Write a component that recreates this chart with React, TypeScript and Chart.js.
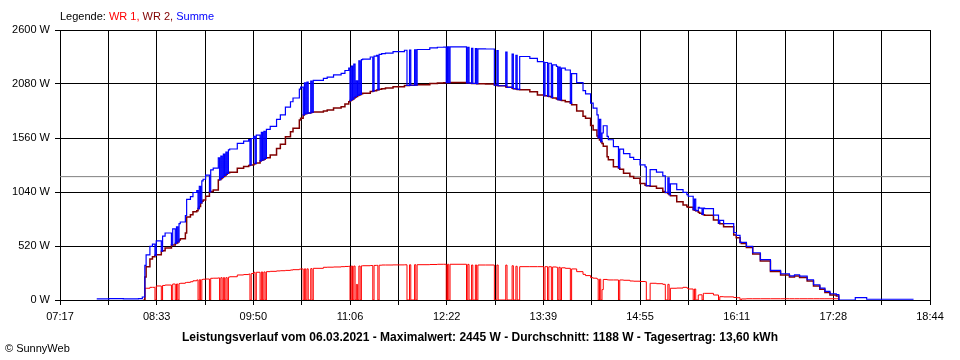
import React, { useEffect, useRef } from "react";
import { Chart, registerables } from "chart.js";

Chart.register(...registerables);

const xTickLabels = ["07:17", "08:33", "09:50", "11:06", "12:22", "13:39", "14:55", "16:11", "17:28", "18:44"];
const yTickValues = [0, 520, 1040, 1560, 2080, 2600];

const seriesNames = ["WR 1", "WR 2", "Summe"];
const seriesColors = ["#ff0000", "#800000", "#0000ff"];
const averageW = 1188;
const titleText = "Leistungsverlauf vom 06.03.2021 - Maximalwert: 2445 W - Durchschnitt: 1188 W - Tagesertrag: 13,60 kWh";

const times = [
  "07:46", "07:56", "08:07", "08:19", "08:22", "08:23", "08:24", "08:25", "08:28", "08:30",
  "08:32", "08:33", "08:37", "08:38", "08:40", "08:45", "08:46", "08:48", "08:49", "08:50",
  "08:51", "08:52", "08:56", "08:57", "09:00", "09:02", "09:05", "09:06", "09:07", "09:08",
  "09:09", "09:10", "09:12", "09:15", "09:16", "09:18", "09:22", "09:23", "09:24", "09:25",
  "09:26", "09:27", "09:28", "09:29", "09:30", "09:31", "09:37", "09:42", "09:46", "09:47",
  "09:48", "09:50", "09:51", "09:52", "09:55", "09:56", "09:57", "09:58", "09:59", "10:00",
  "10:03", "10:08", "10:11", "10:15", "10:19", "10:21", "10:26", "10:27", "10:29", "10:30",
  "10:31", "10:32", "10:33", "10:35", "10:36", "10:37", "10:45", "10:48", "10:53", "10:59",
  "11:02", "11:05", "11:06", "11:07", "11:08", "11:09", "11:10", "11:11", "11:12", "11:13",
  "11:14", "11:15", "11:16", "11:22", "11:24", "11:25", "11:27", "11:28", "11:29", "11:31",
  "11:34", "11:40", "11:49", "11:51", "11:53", "11:54", "11:57", "11:58", "11:59", "12:09",
  "12:15", "12:20", "12:22", "12:23", "12:24", "12:25", "12:38", "12:39", "12:40", "12:42",
  "12:43", "12:45", "12:46", "12:47", "12:53", "13:00", "13:02", "13:03", "13:09", "13:10",
  "13:14", "13:15", "13:17", "13:18", "13:20", "13:28", "13:34", "13:39", "13:40", "13:42",
  "13:43", "13:45", "13:46", "13:49", "13:50", "13:51", "13:52", "13:53", "13:56", "14:00",
  "14:01", "14:05", "14:10", "14:12", "14:16", "14:18", "14:21", "14:22", "14:23", "14:24",
  "14:25", "14:26", "14:29", "14:30", "14:34", "14:38", "14:39", "14:42", "14:47", "14:50",
  "14:55", "14:59", "15:00", "15:03", "15:08", "15:13", "15:15", "15:17", "15:18", "15:19",
  "15:24", "15:29", "15:32", "15:33", "15:37", "15:38", "15:39", "15:41", "15:42", "15:44",
  "15:45", "15:46", "15:53", "15:57", "15:58", "16:01", "16:09", "16:11", "16:14", "16:15",
  "16:19", "16:24", "16:30", "16:38", "16:46", "16:53", "16:57", "17:01", "17:07", "17:12",
  "17:17", "17:21", "17:25", "17:30", "17:32", "17:45", "17:54", "18:31",
];

const wr1 = [
  null, null, null, null, null, 0, 113, 113, 122, 122,
  0, 135, 0, 140, 144, 0, 154, 0, 154, 0,
  158, 161, 168, 170, 176, 185, 193, 0, 195, 0,
  198, 200, 202, 0, 209, 210, 213, 0, 215, 0,
  215, 0, 215, 0, 220, 224, 241, 245, 250, 0,
  255, 267, 0, 267, 0, 270, 0, 270, 0, 273,
  276, 280, 282, 285, 289, 292, 297, 299, 0, 300,
  0, 300, 0, 302, 0, 305, 315, 316, 318, 321,
  323, 325, 0, 327, 0, 327, 0, 150, 0, 327,
  0, 329, 330, 332, 0, 333, 334, 0, 335, 337,
  337, 338, 339, 0, 339, 0, 340, 0, 340, 342,
  344, 344, 0, 344, 0, 344, 0, 343, 0, 337,
  0, 337, 0, 337, 337, 0, 337, 0, 336, 0,
  330, 0, 325, 0, 321, 321, 321, 0, 321, 0,
  320, 0, 318, 315, 0, 315, 0, 310, 305, 0,
  299, 273, 247, 235, 215, 210, 202, 0, 200, 0,
  100, 198, 195, 193, 193, 0, 193, 190, 183, 181,
  178, 176, 0, 161, 157, 151, 0, 151, 0, 113,
  115, 122, 115, 106, 0, 106, 0, 48, 50, 0,
  64, 64, 48, 0, 32, 30, 24, 22, 0, 10,
  12, 12, 12, 12, 12, 12, 12, 12, 12, 12,
  12, 12, 12, 12, 0, null, null, null,
];

const wr2 = [
  null, null, null, null, null, 0, 221, 321, 395, 417,
  430, 435, 470, 475, 501, 530, 530, 545, 550, 560,
  578, 590, 645, 799, 820, 850, 860, 880, 900, 934,
  950, 963, 1000, 1040, 1045, 1059, 1155, 1160, 1170, 1180,
  1190, 1200, 1210, 1220, 1225, 1230, 1268, 1285, 1295, 1300,
  1300, 1310, 1315, 1320, 1340, 1345, 1350, 1355, 1364, 1370,
  1396, 1460, 1500, 1573, 1620, 1653, 1733, 1750, 1782, 1790,
  1795, 1798, 1800, 1805, 1808, 1810, 1820, 1830, 1849, 1862,
  1887, 1909, 1920, 1925, 1935, 1945, 1955, 1960, 1970, 1975,
  1980, 1985, 1990, 2008, 2012, 2015, 2022, 2025, 2030, 2035,
  2041, 2054, 2066, 2066, 2068, 2068, 2070, 2070, 2072, 2085,
  2090, 2092, 2093, 2093, 2093, 2094, 2090, 2089, 2088, 2086,
  2085, 2084, 2083, 2082, 2080, 2070, 2065, 2063, 2050, 2048,
  2038, 2035, 2031, 2028, 2024, 2006, 1974, 1967, 1966, 1963,
  1960, 1950, 1946, 1935, 1930, 1928, 1926, 1922, 1910, 1894,
  1880, 1820, 1770, 1750, 1680, 1637, 1580, 1560, 1540, 1525,
  1508, 1480, 1380, 1350, 1284, 1271, 1260, 1220, 1190, 1172,
  1123, 1105, 1100, 1095, 1075, 1045, 1035, 1025, 1015, 1005,
  947, 915, 899, 893, 870, 865, 860, 845, 835, 825,
  820, 815, 770, 740, 735, 706, 626, 600, 554, 545,
  505, 443, 376, 274, 241, 221, 231, 217, 183, 135,
  103, 72, 48, 39, 0, null, null, null,
];

const summe = [
  10, 14, 10, 14, 29, 29, 334, 434, 517, 539,
  430, 570, 470, 615, 645, 530, 684, 545, 704, 560,
  736, 751, 813, 969, 996, 1035, 1053, 880, 1095, 934,
  1148, 1163, 1202, 1040, 1254, 1269, 1368, 1160, 1385, 1180,
  1405, 1200, 1425, 1220, 1445, 1454, 1509, 1530, 1545, 1300,
  1555, 1577, 1315, 1587, 1340, 1615, 1350, 1625, 1364, 1643,
  1672, 1740, 1782, 1858, 1909, 1945, 2030, 2049, 1782, 2090,
  1795, 2098, 1800, 2107, 1808, 2115, 2135, 2146, 2167, 2183,
  2210, 2234, 1920, 2252, 1935, 2272, 1955, 2110, 1970, 2302,
  1980, 2314, 2320, 2340, 2012, 2348, 2356, 2025, 2365, 2372,
  2378, 2392, 2405, 2066, 2407, 2068, 2410, 2070, 2412, 2427,
  2434, 2436, 2093, 2437, 2093, 2438, 2090, 2432, 2088, 2423,
  2085, 2421, 2083, 2419, 2417, 2070, 2402, 2063, 2386, 2048,
  2368, 2035, 2356, 2028, 2345, 2327, 2295, 1967, 2287, 1963,
  2280, 1950, 2264, 2250, 1930, 2243, 1926, 2232, 2215, 1894,
  2179, 2093, 2017, 1985, 1895, 1847, 1782, 1560, 1740, 1525,
  1608, 1678, 1575, 1543, 1477, 1271, 1453, 1410, 1373, 1353,
  1301, 1281, 1100, 1256, 1232, 1196, 1035, 1176, 1015, 1118,
  1062, 1037, 1014, 999, 870, 971, 860, 893, 885, 825,
  884, 879, 818, 740, 767, 736, 650, 622, 554, 555,
  517, 455, 388, 286, 253, 233, 243, 229, 195, 147,
  115, 84, 60, 51, 0, 22, 7, 7,
];

const FONT = '"Liberation Sans", Arial, Helvetica, sans-serif';

function toMin(s: string): number {
  const [h, m] = s.split(":").map(Number);
  return h * 60 + m;
}

function points(vals: (number | null)[]) {
  return times.map((t, i) => ({ x: toMin(t), y: vals[i] }));
}

export default function App() {
  const ref = useRef<HTMLCanvasElement | null>(null);

  useEffect(() => {
    document.body.style.margin = "0";
    document.body.style.overflow = "hidden";
    const canvas = ref.current;
    if (!canvas) return;
    const xMin = toMin(xTickLabels[0]);
    const xMax = toMin(xTickLabels[xTickLabels.length - 1]);
    const nTicks = (xTickLabels.length - 1) * 2;

    const lineBase = {
      stepped: true as const,
      pointRadius: 0,
      pointHoverRadius: 0,
      fill: false,
      tension: 0,
      spanGaps: false,
    };

    const chart = new Chart(canvas, {
      type: "line",
      data: {
        datasets: [
          { ...lineBase, label: seriesNames[2], data: points(summe), borderColor: seriesColors[2], borderWidth: 1.2 },
          { ...lineBase, label: seriesNames[1], data: points(wr2), borderColor: seriesColors[1], borderWidth: 1.5 },
          { ...lineBase, label: seriesNames[0], data: points(wr1), borderColor: seriesColors[0], borderWidth: 1 },
          {
            ...lineBase,
            stepped: false as any,
            label: "Durchschnitt",
            data: [
              { x: xMin, y: averageW },
              { x: xMax, y: averageW },
            ],
            borderColor: "#808080",
            borderWidth: 1,
          },
        ],
      },
      options: {
        animation: false,
        responsive: false,
        events: [],
        layout: { padding: { top: 30, right: 30, left: 0, bottom: 0 } },
        plugins: {
          legend: { display: false },
          tooltip: { enabled: false },
          title: { display: false },
        },
        scales: {
          x: {
            type: "linear",
            min: xMin,
            max: xMax,
            afterBuildTicks: (scale: any) => {
              scale.ticks = Array.from({ length: nTicks + 1 }, (_, k) => ({
                value: xMin + ((xMax - xMin) * k) / nTicks,
              }));
            },
            afterFit: (scale: any) => {
              scale.height = 60;
            },
            ticks: {
              autoSkip: false,
              maxRotation: 0,
              minRotation: 0,
              padding: 5,
              color: "#000",
              font: { family: FONT, size: 11 },
              callback: (_v: any, i: number) => (i % 2 === 0 ? xTickLabels[i / 2] : ""),
            },
            grid: { color: "#000", lineWidth: 1, tickLength: 5, drawTicks: true },
            border: { color: "#000", width: 1 },
          },
          y: {
            type: "linear",
            min: yTickValues[0],
            max: yTickValues[yTickValues.length - 1],
            afterBuildTicks: (scale: any) => {
              scale.ticks = yTickValues.map((v) => ({ value: v }));
            },
            afterFit: (scale: any) => {
              scale.width = 60;
            },
            ticks: {
              padding: 5,
              color: "#000",
              font: { family: FONT, size: 11 },
              callback: (v: any) => `${v} W`,
            },
            grid: { color: "#000", lineWidth: 1, tickLength: 5, drawTicks: true },
            border: { color: "#000", width: 1 },
          },
        },
      },
    } as any);

    return () => chart.destroy();
  }, []);

  const legendParts = seriesNames.map((n, i) => (
    <span key={n} style={{ color: seriesColors[i] }}>
      {n}
      {i < seriesNames.length - 1 ? "," : ""}
      {i < seriesNames.length - 1 ? " " : ""}
    </span>
  ));

  return (
    <div style={{ position: "relative", width: 960, height: 360, overflow: "hidden", background: "#fff" }}>
      <canvas ref={ref} width={960} height={360} style={{ position: "absolute", left: 0, top: 0, width: 960, height: 360 }} />
      <div
        style={{
          position: "absolute",
          left: 60,
          top: 11,
          fontFamily: FONT,
          fontSize: 11,
          lineHeight: "11px",
          whiteSpace: "pre",
          color: "#000",
        }}
      >
        {"Legende: "}
        {legendParts}
      </div>
      <div
        style={{
          position: "absolute",
          left: 0,
          top: 331,
          width: 960,
          textAlign: "center",
          fontFamily: FONT,
          fontSize: 12,
          fontWeight: "bold",
          lineHeight: "12px",
          whiteSpace: "nowrap",
          color: "#000",
        }}
      >
        {titleText}
      </div>
      <div
        style={{
          position: "absolute",
          left: 5,
          top: 343,
          fontFamily: FONT,
          fontSize: 11,
          lineHeight: "11px",
          whiteSpace: "nowrap",
          color: "#000",
        }}
      >
        © SunnyWeb
      </div>
    </div>
  );
}
